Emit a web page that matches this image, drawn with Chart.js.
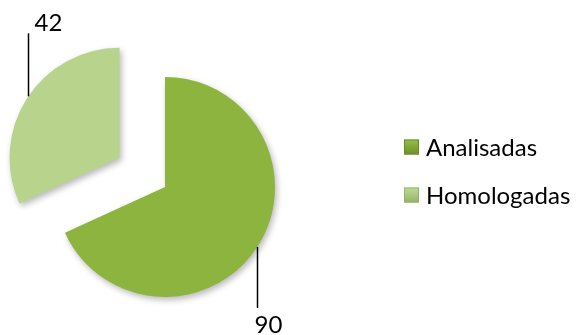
<!DOCTYPE html>
<html>
<head>
    <title>Analisadas / Homologadas</title>
    <style>
        body { margin: 0; background: #fff; }
        #wrap { width: 577px; height: 335px; }
    </style>
</head>
<body>
<div id="wrap"><canvas id="pieChart"></canvas></div>

<script src="https://cdn.jsdelivr.net/npm/chart.js"></script>
<script>
    const labels = ['Analisadas', 'Homologadas'];
    const counts = [90, 42];

    const baseColors = ['rgb(141,180,62)', 'rgb(183,211,140)'];
    const lightColors = ['rgb(150,190,70)', 'rgb(192,219,152)'];
    const rimColors = ['rgb(108,142,42)', 'rgb(148,178,104)'];
    const FONT = '24px Lato';

    // radial shading so each slice gets a darker rim
    function sliceFill(ctx) {
        const arc = ctx.element;
        const i = ctx.dataIndex;
        if (!arc || !arc.outerRadius) return baseColors[i];
        const g = ctx.chart.ctx.createRadialGradient(arc.x, arc.y, 0, arc.x, arc.y, arc.outerRadius);
        g.addColorStop(0, lightColors[i]);
        g.addColorStop(0.75, baseColors[i]);
        g.addColorStop(1, rimColors[i]);
        return g;
    }

    // pulls slices away from the centre along their bisector
    const explode = {
        id: 'explode',
        afterDatasetsUpdate(chart, args, opts) {
            chart.getDatasetMeta(0).data.forEach((arc, i) => {
                const d = opts.distance[i] || 0;
                const mid = (arc.startAngle + arc.endAngle) / 2;
                arc.x += Math.cos(mid) * d;
                arc.y += Math.sin(mid) * d;
            });
        }
    };

    const shadow = {
        id: 'shadow',
        beforeDatasetsDraw(chart) {
            const c = chart.ctx;
            c.save();
            c.shadowColor = 'rgba(0,0,0,0.28)';
            c.shadowBlur = 6;
            c.shadowOffsetX = 2;
            c.shadowOffsetY = 3;
        },
        afterDatasetsDraw(chart) {
            chart.ctx.restore();
        }
    };

    // value labels with a vertical leader line
    const valueLabels = {
        id: 'valueLabels',
        afterDraw(chart, args, opts) {
            const c = chart.ctx;
            const values = chart.data.datasets[0].data;
            c.save();
            c.strokeStyle = '#000';
            c.fillStyle = '#000';
            c.lineWidth = 1.5;
            c.font = FONT;
            c.textBaseline = 'alphabetic';
            chart.getDatasetMeta(0).data.forEach((arc, i) => {
                const a = opts.anchors[i];
                const ang = a.angle * Math.PI / 180;
                const px = Math.round(arc.x + Math.cos(ang) * arc.outerRadius) + 0.5;
                const py = arc.y + Math.sin(ang) * arc.outerRadius;
                const ey = py + a.length;
                c.beginPath();
                c.moveTo(px, py);
                c.lineTo(px, ey);
                c.stroke();
                c.textAlign = 'left';
                c.fillText(String(values[i]), px + a.dx, ey + a.dy);
            });
            c.restore();
        }
    };

    // legend on the right
    const sideLegend = {
        id: 'sideLegend',
        afterDraw(chart, args, opts) {
            const c = chart.ctx;
            c.save();
            c.font = FONT;
            c.textBaseline = 'middle';
            c.textAlign = 'left';
            chart.data.labels.forEach((label, i) => {
                const y = opts.top + i * opts.step;
                const x = opts.left;
                const s = opts.box;
                const g = c.createLinearGradient(x, y - s / 2, x, y + s / 2);
                g.addColorStop(0, lightColors[i]);
                g.addColorStop(1, rimColors[i]);
                c.fillStyle = g;
                c.fillRect(x, y - s / 2, s, s);
                c.strokeStyle = rimColors[i];
                c.lineWidth = 1;
                c.strokeRect(x + 0.5, y - s / 2 + 0.5, s - 1, s - 1);
                c.fillStyle = '#000';
                c.fillText(label, x + s + 7, y + 1);
            });
            c.restore();
        }
    };

    new Chart(document.getElementById('pieChart'), {
        type: 'pie',
        data: {
            labels: labels,
            datasets: [{
                data: counts,
                backgroundColor: sliceFill,
                borderWidth: 0
            }]
        },
        options: {
            responsive: true,
            maintainAspectRatio: false,
            animation: false,
            radius: 110,
            layout: { padding: { left: 55, right: 302, top: 77, bottom: 38 } },
            plugins: {
                legend: { display: false },
                tooltip: { enabled: false },
                explode: { distance: [0, 54] },
                valueLabels: {
                    anchors: [
                        { angle: 33, length: 61, dx: -3, dy: 25 },
                        { angle: -146, length: -63, dx: 6, dy: -2 }
                    ]
                },
                sideLegend: { left: 404, top: 147, step: 48, box: 15 }
            }
        },
        plugins: [explode, shadow, valueLabels, sideLegend]
    });
</script>
</body>
</html>
